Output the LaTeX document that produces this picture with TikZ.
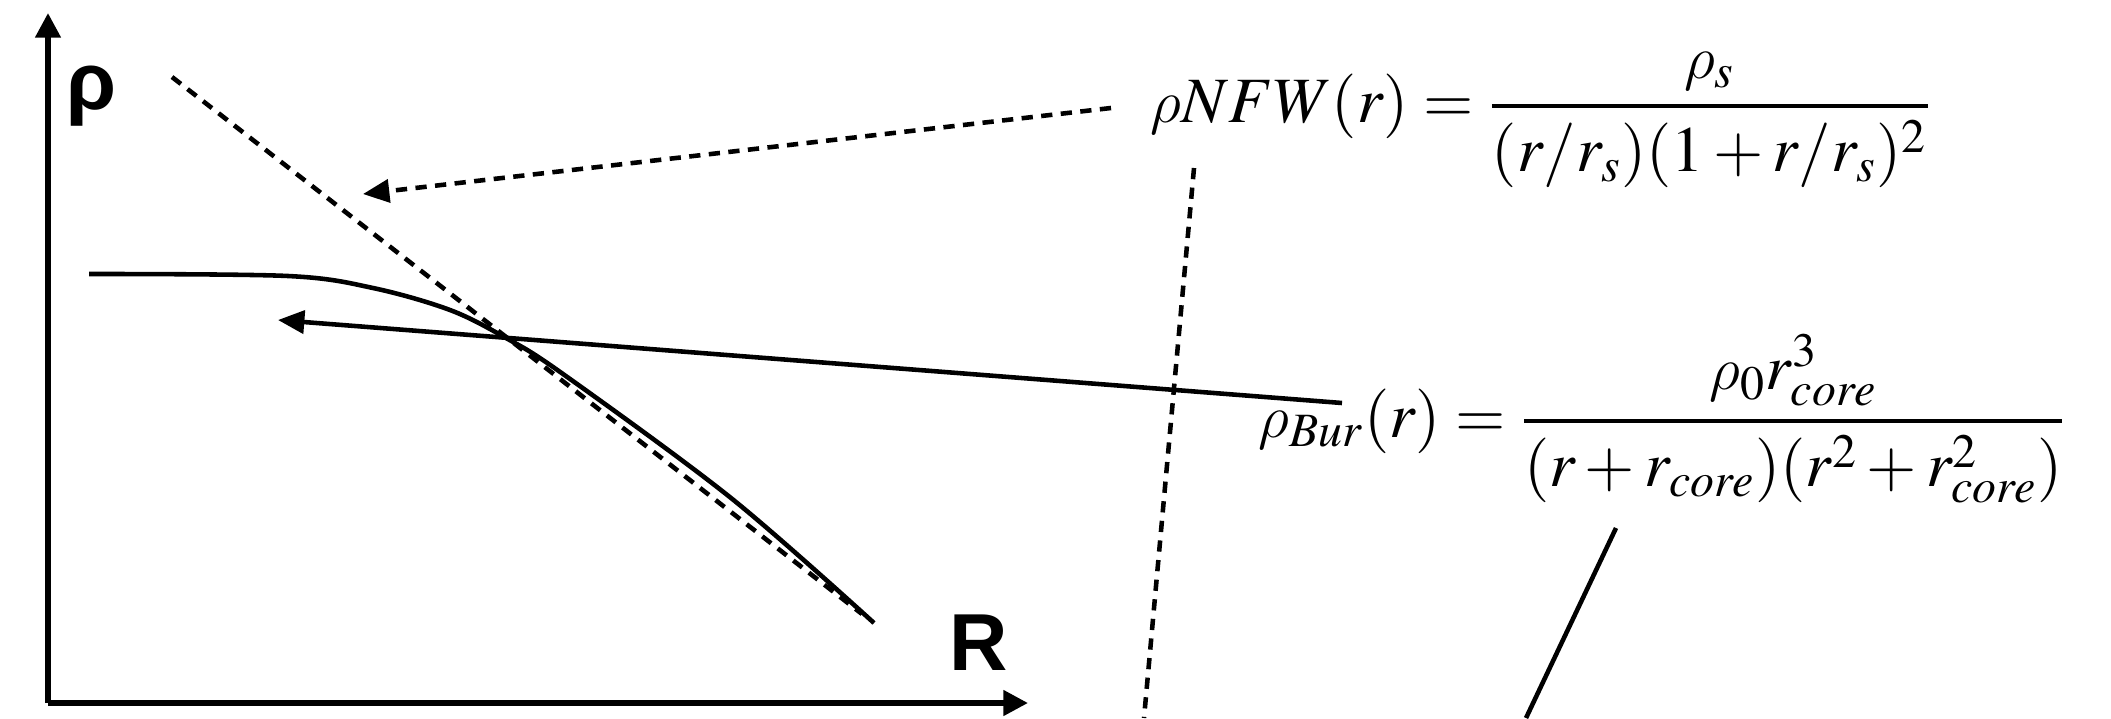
\documentclass[tikz,border=0pt]{standalone}
\usepackage{amsmath}
\usepackage{mathptmx}
\usepackage[no-math]{fontspec}
\newfontfamily\axisfont{Liberation Sans}
\usetikzlibrary{arrows.meta}
\DeclareSymbolFont{cmletters}{OML}{cmm}{m}{it}
\DeclareMathSymbol{\itrho}{\mathord}{cmletters}{"1A}
\newcommand{\barfrac}[2]{\genfrac{}{}{1.2pt}{0}{#1}{#2}}

\begin{document}
\begin{tikzpicture}[
    axis/.style={line width=1.6pt, -{Triangle[length=7pt,width=7pt]}},
    curve/.style={line width=1.3pt},
    dash line/.style={line width=1.3pt, dash pattern=on 3.2pt off 2.4pt},
    tip/.style={-{Triangle[length=7.5pt,width=6.5pt]}},
    formula/.style={inner sep=0pt, anchor=base west, font=\fontsize{18.4}{22}\selectfont},
    axislabel/.style={inner sep=0pt, font=\fontsize{23}{25}\selectfont\axisfont\bfseries}]
  \useasboundingbox (0,0) rectangle (21.11,7.18);
  % axes
  \coordinate (o) at (0.48,0.15);
  \draw[axis] (o) -- (0.48,7.05);
  \draw[axis] (o) -- (10.28,0.15);
  \node[axislabel] (rholab) at (0.92,6.22) {ρ};
  \node[axislabel] (rlab) at (9.79,0.75) {R};
  % profiles
  \draw[dash line] (1.72,6.41) -- (8.62,1.04);
  \draw[curve] plot[smooth, tension=0.55] coordinates {(0.89,4.44) (2.88,4.42) (3.73,4.30)
    (4.50,4.08) (5.06,3.80) (5.63,3.44) (7.31,2.20) (8.74,0.95)};
  % formulas
  \node[formula] (nfw) at (11.50,5.96)
    {$\itrho NFW(r) = \barfrac{\itrho_s}{(r/r_s)(1+r/r_s)^2}$};
  \node[formula] (bur) at (12.58,2.81)
    {$\itrho_{Bur}(r) = \barfrac{\itrho_0 r_{core}^3}{(r+r_{core})(r^2+r_{core}^2)}$};
  % pointers
  \coordinate (nfwfrom) at (11.11,6.10);
  \coordinate (nfwto) at (3.63,5.24);
  \coordinate (burfrom) at (13.42,3.15);
  \coordinate (burto) at (2.78,3.98);
  \draw[dash line, tip] (nfwfrom) -- (nfwto);
  \draw[curve, tip] (burfrom) -- (burto);
  \coordinate (dtop) at (11.94,5.50);
  \coordinate (dbot) at (11.44,0);
  \draw[dash line] (dtop) -- (dbot);
  \coordinate (stop) at (16.16,1.90);
  \coordinate (sbot) at (15.26,0);
  \draw[curve] (stop) -- (sbot);
\end{tikzpicture}
\end{document}
